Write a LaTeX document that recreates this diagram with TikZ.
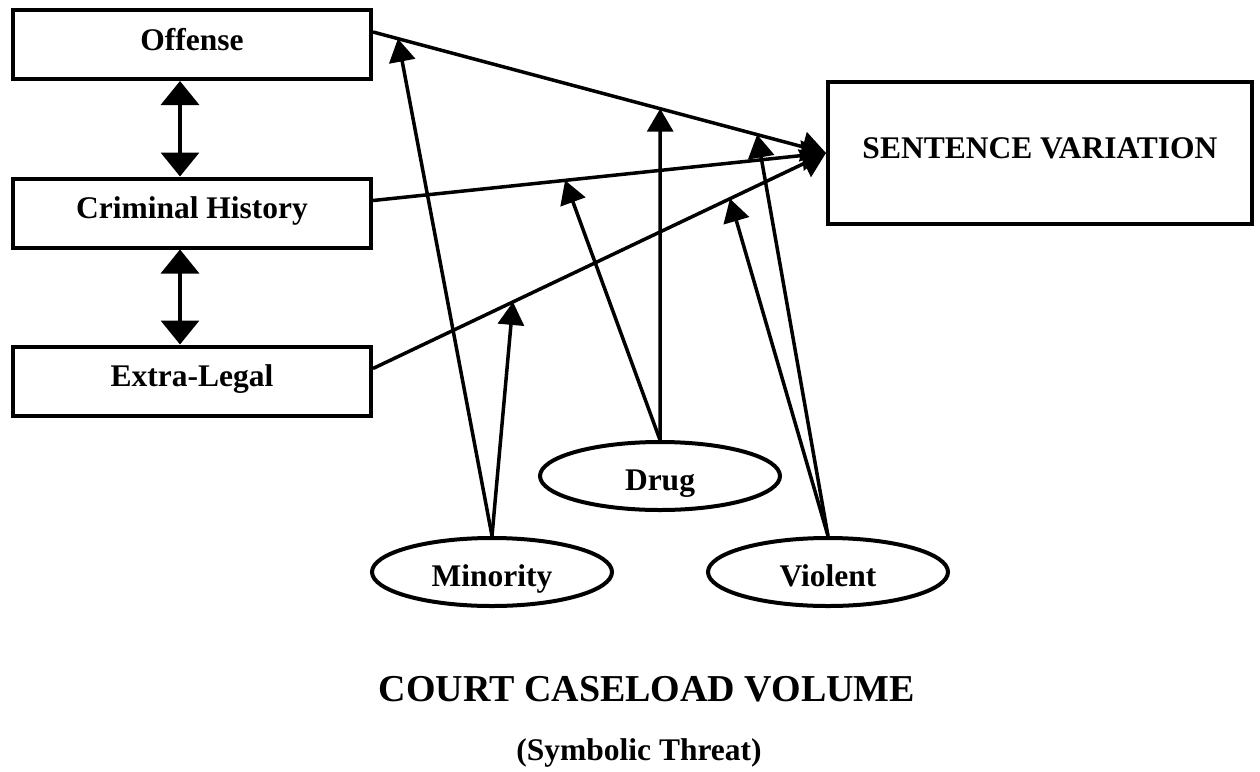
\documentclass[tikz,border=0pt]{standalone}
\usepackage{fontspec}
\setmainfont{Liberation Serif}
\usetikzlibrary{arrows.meta,calc,shapes.geometric}

\tikzset{
  factor/.style={draw,line width=4pt,minimum width=358pt,minimum height=69pt,inner sep=0pt,
    font=\bfseries\fontsize{31.5}{36}\selectfont,text height=21pt,text depth=10pt},
  group/.style={draw,ellipse,line width=4pt,minimum width=240pt,minimum height=68pt,inner sep=0pt,
    font=\bfseries\fontsize{31.5}{36}\selectfont,text height=36pt,text depth=7pt},
  effect/.style={line width=3.5pt,-{Triangle[length=24pt,width=30pt]}},
  moder/.style={line width=3.5pt,-{Triangle[length=23pt,width=26pt]}},
  link/.style={line width=3.5pt,{Triangle[length=24pt,width=38pt]}-{Triangle[length=24pt,width=38pt]}}
}

\begin{document}
\begin{tikzpicture}[x=1pt,y=-1pt]
\useasboundingbox (0,0) rectangle (1260,771);

% Legal and extra-legal factors
\node[factor] (off) at (192,44.5) {Offense};
\node[factor] (crim) at (192,213) {Criminal History};
\node[factor] (extra) at (192,381) {Extra-Legal};

% Outcome
\node[factor,minimum width=424pt,minimum height=142pt] (sv) at (1040,153) {SENTENCE VARIATION};

% Groups
\node[group] (drug) at (660,476) {Drug};
\node[group] (minor) at (492,572) {Minority};
\node[group] (viol) at (828,572) {Violent};

% Correlations between factors
\draw[link] ([xshift=-12pt]off.south) -- ([xshift=-12pt]crim.north);
\draw[link] ([xshift=-12pt]crim.south) -- ([xshift=-12pt]extra.north);

% Main effects
\coordinate (o1) at ([yshift=12.5pt]off.east);
\coordinate (c1) at ([yshift=12.5pt]crim.east);
\coordinate (e1) at ([yshift=12.5pt]extra.east);
\draw[effect] (o1) -- (sv.west);
\draw[effect] (c1) -- (sv.west);
\draw[effect] (e1) -- (sv.west);

% Points where the groups act on the paths
\coordinate (t1) at ($(o1)!0.055!(sv.west)$);
\coordinate (t2) at ($(o1)!0.634!(sv.west)$);
\coordinate (t3) at ($(o1)!0.848!(sv.west)$);
\coordinate (t4) at ($(c1)!0.424!(sv.west)$);
\coordinate (t5) at ($(e1)!0.309!(sv.west)$);
\coordinate (t6) at ($(e1)!0.788!(sv.west)$);

% Moderating arrows
\draw[moder] (minor.north) -- (t1);
\draw[moder] (minor.north) -- (t5);
\draw[moder] (drug.north) -- (t2);
\draw[moder] (drug.north) -- (t4);
\draw[moder] (viol.north) -- (t3);
\draw[moder] (viol.north) -- (t6);

% Title
\node[anchor=base,font=\bfseries\fontsize{38}{44}\selectfont] (title) at (647,701) {COURT CASELOAD VOLUME};
\node[anchor=base,font=\bfseries\fontsize{31.5}{36}\selectfont] (subtitle) at (639,760) {(Symbolic Threat)};
\end{tikzpicture}
\end{document}
